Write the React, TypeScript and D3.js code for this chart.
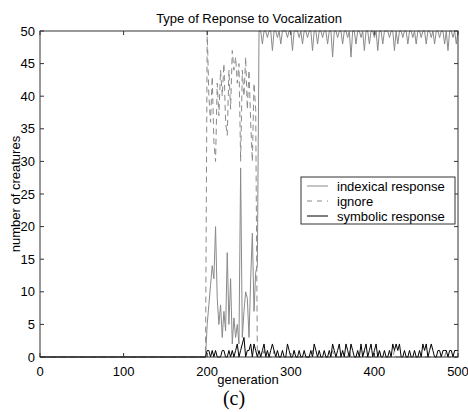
import React from "react";
import * as d3 from "d3";

// Generations 200..500 sampled every 2; before 200 all series are 0
const leadGens = [0, 198];
const indexical = [
  5, 8, 11, 14, 12, 20, 9, 5, 8, 3,
  7, 4, 16, 5, 12, 2, 6, 3, 5, 2,
  29, 3, 7, 10, 9, 3, 12, 19, 7, 13,
  14, 50, 50, 48, 50, 50, 49, 50, 50, 47,
  50, 50, 49, 50, 48, 50, 50, 50, 49, 50,
  50, 47, 50, 50, 50, 49, 50, 48, 50, 50,
  49, 50, 50, 47, 50, 50, 48, 50, 50, 49,
  50, 50, 48, 50, 50, 46, 50, 50, 49, 50,
  50, 48, 50, 50, 49, 50, 46, 50, 50, 48,
  50, 50, 49, 50, 47, 50, 50, 48, 50, 50,
  49, 50, 47, 50, 50, 48, 50, 50, 50, 49,
  50, 50, 47, 50, 48, 50, 50, 49, 50, 50,
  48, 50, 50, 49, 50, 48, 50, 50, 49, 50,
  50, 48, 50, 50, 49, 50, 48, 50, 50, 49,
  50, 50, 48, 50, 47, 50, 50, 49, 50, 48,
  50,
];
const ignore = [
  50, 40, 36, 43, 33, 30, 42, 37, 44, 40,
  45, 36, 34, 44, 38, 47, 44, 46, 42, 45,
  30, 44, 40, 46, 38, 44, 36, 30, 42, 38,
  0, 0, 0, 0, 1, 0, 0, 0, 0, 0,
  1, 0, 0, 0, 0, 0, 0, 0, 0, 0,
  0, 0, 1, 0, 0, 0, 0, 0, 0, 0,
  0, 0, 0, 1, 0, 0, 0, 0, 0, 0,
  0, 0, 0, 0, 0, 1, 0, 0, 0, 0,
  0, 0, 0, 0, 0, 1, 0, 0, 0, 0,
  0, 0, 0, 0, 1, 0, 0, 0, 0, 0,
  0, 0, 0, 1, 0, 0, 0, 0, 0, 0,
  0, 0, 1, 0, 0, 0, 0, 0, 0, 0,
  0, 0, 0, 0, 0, 0, 0, 0, 0, 0,
  0, 0, 0, 0, 0, 0, 0, 0, 0, 0,
  0, 0, 0, 1, 0, 0, 0, 0, 0, 0,
  0,
];
const symbolic = [
  1, 1, 0, 1, 0, 1, 0, 0, 0, 1,
  1, 0, 0, 1, 0, 1, 0, 1, 2, 0,
  1, 2, 3, 0, 1, 1, 2, 0, 2, 1,
  0, 1, 0, 1, 2, 0, 1, 0, 1, 2,
  1, 0, 1, 0, 0, 1, 0, 0, 2, 1,
  0, 0, 1, 0, 0, 1, 0, 0, 1, 0,
  0, 0, 1, 0, 2, 1, 0, 1, 0, 0,
  1, 0, 0, 1, 0, 2, 1, 0, 1, 2,
  0, 1, 0, 2, 1, 0, 2, 1, 0, 0,
  1, 0, 2, 0, 1, 2, 0, 1, 2, 0,
  1, 2, 0, 1, 0, 0, 1, 0, 0, 1,
  0, 2, 1, 2, 1, 2, 0, 0, 1, 0,
  0, 1, 0, 0, 1, 0, 0, 1, 0, 2,
  1, 2, 0, 1, 2, 1, 0, 0, 1, 1,
  0, 1, 1, 1, 0, 1, 1, 0, 1, 1,
  1,
];
const xTicks = [0, 100, 200, 300, 400, 500];
const yTicks = [0, 5, 10, 15, 20, 25, 30, 35, 40, 45, 50];

const W = 468, H = 412;
const L = 40, R = 458, T = 31, B = 357;
const FONT = "'Liberation Sans', Arial, Helvetica, sans-serif";

export default function App() {
  const x = d3.scaleLinear().domain([0, 500]).range([L, R]);
  const y = d3.scaleLinear().domain([0, 50]).range([B, T]);
  const gens = leadGens.concat(d3.range(200, 501, 2));
  const toPts = (vals: number[]) =>
    gens.map((g, i) => [g, i < leadGens.length ? 0 : vals[i - leadGens.length]] as [number, number]);
  const line = d3
    .line<[number, number]>()
    .x((d) => x(d[0]))
    .y((d) => y(d[1]));
  const gray = "#8a8a8a";
  return (
    <svg width={W} height={H} style={{ position: "absolute", left: 0, top: 0, background: "#fff" }}>
      <rect x={0} y={0} width={W} height={H} fill="#fff" />
      <path d={line(toPts(ignore)) || ""} fill="none" stroke={gray} strokeWidth={1} strokeDasharray="6,4" />
      <path d={line(toPts(indexical)) || ""} fill="none" stroke={gray} strokeWidth={1} />
      <path d={line(toPts(symbolic)) || ""} fill="none" stroke="#000" strokeWidth={1} />
      <rect x={L} y={T} width={R - L} height={B - T} fill="none" stroke="#333" strokeWidth={1} />
      {xTicks.map((t) => (
        <g key={"x" + t}>
          <line x1={x(t)} x2={x(t)} y1={B} y2={B - 4} stroke="#333" />
          <line x1={x(t)} x2={x(t)} y1={T} y2={T + 4} stroke="#333" />
          <text x={x(t)} y={376} textAnchor="middle" fontFamily={FONT} fontSize={13}>
            {t}
          </text>
        </g>
      ))}
      {yTicks.map((t) => (
        <g key={"y" + t}>
          <line x1={L} x2={L + 4} y1={y(t)} y2={y(t)} stroke="#333" />
          <line x1={R} x2={R - 4} y1={y(t)} y2={y(t)} stroke="#333" />
          <text x={35} y={y(t) + 4.5} textAnchor="end" fontFamily={FONT} fontSize={13}>
            {t}
          </text>
        </g>
      ))}
      <text x={(L + R) / 2} y={23} textAnchor="middle" fontFamily={FONT} fontSize={13}>
        Type of Reponse to Vocalization
      </text>
      <text x={248} y={384} textAnchor="middle" fontFamily={FONT} fontSize={13}>
        generation
      </text>
      <text
        transform={`translate(20,${(T + B) / 2}) rotate(-90)`}
        textAnchor="middle"
        fontFamily={FONT}
        fontSize={13}
      >
        number of creatures
      </text>
      <text x={234} y={405} textAnchor="middle" fontFamily="'Liberation Serif', 'Times New Roman', serif" fontSize={20}>
        (c)
      </text>
      <g>
        <rect x={301} y={177} width={154} height={47} fill="#fff" stroke="#333" strokeWidth={1} />
        <line x1={307} x2={328} y1={186} y2={186} stroke={gray} />
        <line x1={307} x2={328} y1={201} y2={201} stroke={gray} strokeDasharray="5,5" />
        <line x1={307} x2={328} y1={216} y2={216} stroke="#000" />
        <text x={337} y={190.5} fontFamily={FONT} fontSize={13}>indexical response</text>
        <text x={337} y={205.5} fontFamily={FONT} fontSize={13}>ignore</text>
        <text x={337} y={220.5} fontFamily={FONT} fontSize={13}>symbolic response</text>
      </g>
    </svg>
  );
}
